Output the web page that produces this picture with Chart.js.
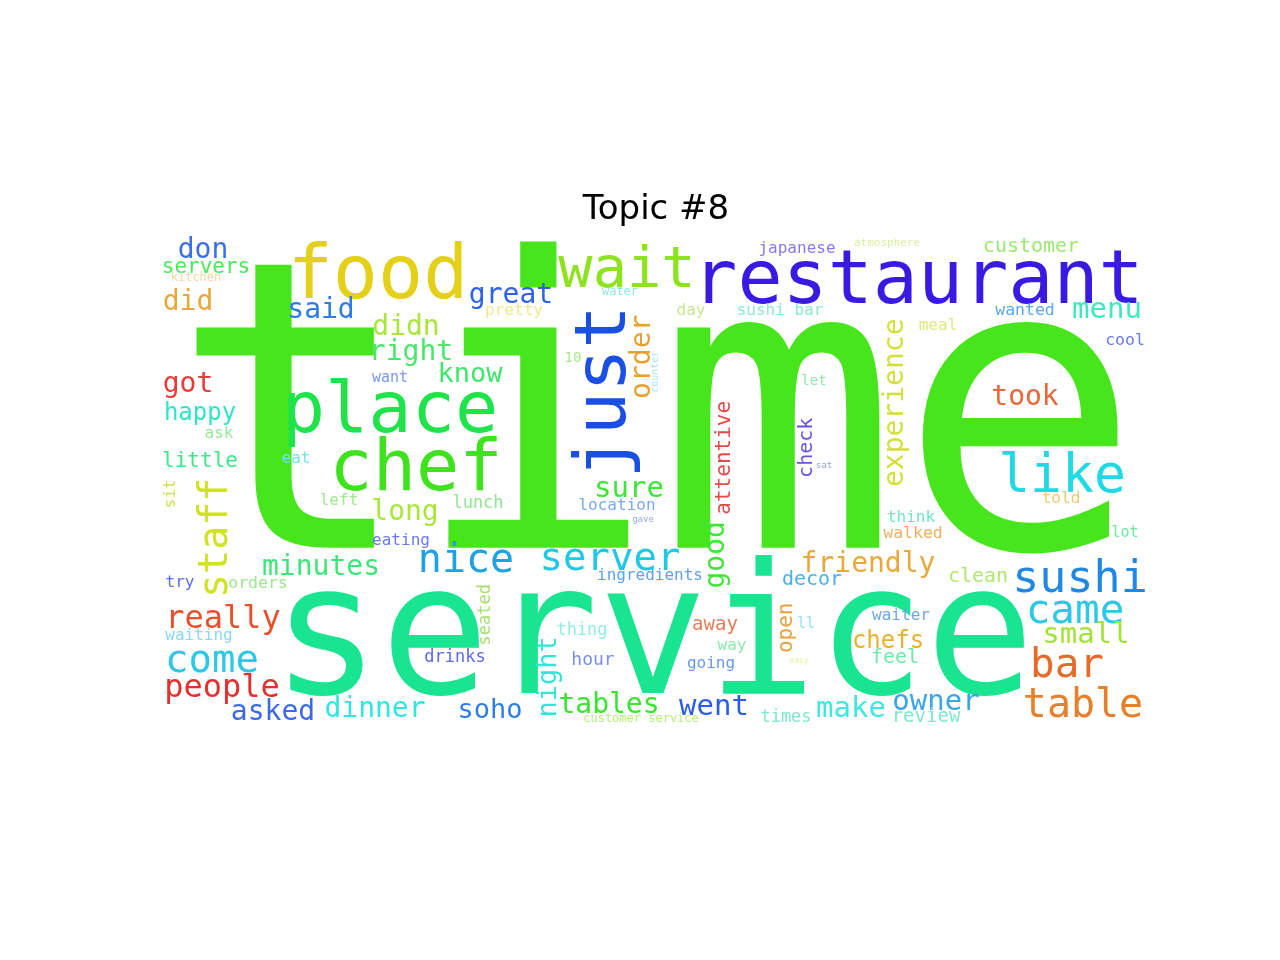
<!DOCTYPE html>
<html>
<head>
<meta charset="utf-8">
<script src="https://cdn.jsdelivr.net/npm/chart.js@4/dist/chart.umd.min.js"></script>
<style>
  html, body { margin: 0; padding: 0; background: #ffffff; }
  canvas { display: block; }
</style>
</head>
<body>
<canvas id="c" width="1280" height="960"></canvas>
<script>
// ---- Word cloud data (cloud coordinates: x 0..992, y 0..496, baseline anchor) ----
const words = ["time","service","restaurant","food","wait","place","chef","like","sushi","came","small","bar","table","owner","review","make","times","went","customer service","tables","thing","hour","soho","drinks","ingredients","nice","server","sure","location","gave","lunch","long","eating","left","eat","little","ask","happy","got","did","servers","kitchen","don","said","didn","right","want","know","great","pretty","water","10","japanese","atmosphere","day","sushi bar","let","meal","customer","wanted","menu","cool","took","told","think","walked","lot","friendly","clean","decor","sat","away","way","going","ll","easy","waiter","chefs","feel","really","waiting","come","people","asked","dinner","try","orders","minutes",
  "just","staff","night","seated","order","counter","experience","sit","good","attentive","check","open"];
const wordX = [496,493,758,218,467,230,256,902,920,915,926,907,923,776,766,691,626,554,481,449,422,433,330,295,490,306,450,469,457,483,318,245,241,179,136,40,59,40,28,28,46,36,43,161,246,251,230,310,351,354,460,413,637,727,531,620,654,778,871,865,947,965,865,901,751,753,965,708,818,652,664,555,572,551,646,639,741,728,735,63,39,52,62,113,215,20,98,161,
  465,67,396,330,490,498,743,15,564,570,652,632];
const wordY = [311,456,66,61,50,195,253,255,355,386,406,440,480,473,485,480,485,478,485,476,398,428,481,425,343,335,333,260,273,285,271,283,308,268,226,230,201,183,155,73,36,44,21,81,98,123,145,145,66,78,58,125,16,9,78,78,148,93,15,78,81,108,168,266,285,301,300,335,345,348,231,393,413,431,391,426,383,411,426,391,403,435,460,483,480,350,351,338,
  155,301,440,378,120,135,166,257,318,221,211,391];
const weights = [403,181,75,75,57,72,72,53,45,41,29,41,40,29,19,29,17,29,12,28,17,18,27,17,16,40,39,29,16,9,17,28,16,16,16,21,16,24,28,28,21,12,28,28,28,28,15,27,28,16,12,14,16,11,16,16,14,16,20,16.5,29,16.5,28,16,16,16.5,15,28,20,20,9,19,16,16,15,8,16,24,20,32,16,39,32,28,28,16,16.5,28,
  72,40,27,17,28,10,28,16,28,21,20,21];
const vertical = words.map((w, i) => i >= 88);
const colors = ["#47e51b","#19e490","#3a19e3","#e5d019","#8ee31f","#1ee34a","#3ee31e","#1ed9e6","#1e88e3","#2ec8e6","#a3e336","#e66a2a","#e6802a","#3aa6e6","#80e8c8","#40e6e0","#80e6d0","#2a5ce6","#b8ec80","#38e62e","#90eee6","#7a90e8","#2e7ee6","#5a6ae6","#60a0e8","#1ea2e6","#1ec8e6","#3ee63a","#7aaae8","#90a8ea","#8ee68e","#a8e63a","#6a7ae8","#a0e890","#70e8e0","#3ee68a","#9ae69a","#2ee6c6","#e63c3a","#e8a83a","#4ae85a","#f0d8a0","#3a70e6","#2e7ae6","#a8e63a","#4ae86a","#7a9ae8","#3ee66a","#2e62e6","#f0e890","#90e8e0","#a8e890","#8a7ae8","#d8f0a0","#c8e890","#8ee8d0","#8ee8b0","#e0e880","#9ae870","#5aa8e8","#3ee8c0","#6a7ae8","#e8683a","#f0c870","#6ee8c0","#eab060","#6ee8a0","#e8a83a","#b0e870","#4ab0e8","#8aa8e8","#e87a5a","#8ee8b0","#6a9ae8","#8ee8f0","#e8f0a0","#6aa8e8","#e8b030","#6ee8a8","#e8502a","#8ad8f0","#2ec8e6","#e63030","#3a6ae6","#30e6e0","#5a6ae8","#9ae88a","#3ee67a",
  "#1a4fe3","#cfe31e","#2ee6d6","#a8e070","#e8a030","#a8e8f0","#d4e03a","#d2e050","#3ee63a","#e84848","#6a50e8","#e8a040"];
const titleText = "Topic #8";

const wordPlugin = {
  id: 'wordText',
  afterDatasetsDraw(chart) {
    const ctx = chart.ctx;
    const meta = chart.getDatasetMeta(0);
    const xs = chart.scales.x;
    const unit = Math.abs(xs.getPixelForValue(1) - xs.getPixelForValue(0));
    ctx.save();
    meta.data.forEach((pt, i) => {
      const size = weights[i] * unit;
      ctx.font = size + 'px "DejaVu Sans Mono"';
      ctx.fillStyle = colors[i];
      ctx.textAlign = 'center';
      ctx.textBaseline = 'alphabetic';
      if (vertical[i]) {
        ctx.save();
        ctx.translate(pt.x, pt.y);
        ctx.rotate(-Math.PI / 2);
        ctx.fillText(words[i], 0, 0);
        ctx.restore();
      } else {
        ctx.fillText(words[i], pt.x, pt.y);
      }
    });
    ctx.restore();
  }
};

function build() {
  new Chart(document.getElementById('c'), {
    type: 'scatter',
    data: {
      datasets: [{
        data: words.map((w, i) => ({ x: wordX[i], y: wordY[i] })),
        pointRadius: 0,
        pointHoverRadius: 0
      }]
    },
    options: {
      responsive: false,
      animation: false,
      events: [],
      layout: { padding: { left: 160, right: 128, top: 0, bottom: 227.2 } },
      scales: {
        x: { type: 'linear', min: 0, max: 992, display: false },
        y: { type: 'linear', min: 0, max: 496, reverse: true, display: false }
      },
      plugins: {
        legend: { display: false },
        tooltip: { enabled: false },
        title: {
          display: true,
          text: titleText,
          color: '#000000',
          font: { family: 'DejaVu Sans', size: 34, weight: 'normal', lineHeight: 1.2 },
          padding: { top: 190, bottom: 6 }
        }
      }
    },
    plugins: [wordPlugin]
  });
}

if (document.fonts && document.fonts.load) {
  Promise.all([
    document.fonts.load('20px "DejaVu Sans Mono"'),
    document.fonts.load('20px "DejaVu Sans"')
  ]).then(build, build);
} else {
  build();
}
</script>
</body>
</html>
